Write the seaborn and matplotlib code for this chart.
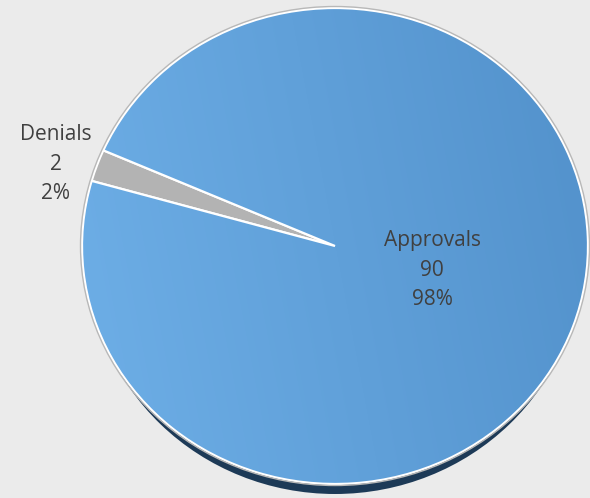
import numpy as np
import matplotlib
matplotlib.use("Agg")
import matplotlib.pyplot as plt
import seaborn as sns
from matplotlib.patches import Ellipse

sns.set_theme(style="white")
plt.rcParams["font.family"] = ["Open Sans", "DejaVu Sans"]

# Decision counts
categories = ["Denials", "Approvals"]
counts = [2, 90]

W, H = 590, 498
cx, cy = 335, 246          # pie centre (px)
rx, ry = 253, 238          # pie radii (px)

fig = plt.figure(figsize=(W / 100, H / 100), dpi=100)
fig.patch.set_facecolor("#ebebeb")
ax = fig.add_axes([0, 0, 1, 1])
ax.set_facecolor("#ebebeb")

# data units: one unit = rx px horizontally, ry px vertically
ax.set_xlim(-cx / rx, (W - cx) / rx)
ax.set_ylim(-(H - cy) / ry, cy / ry)

# drop shadow under the disc
shadow = Ellipse((0.0, -10 / ry), 2 * 0.975, 2.0, facecolor="#1d3a57",
                 edgecolor="none", zorder=0)
ax.add_patch(shadow)
# thin grey rim
rim = Ellipse((0.0, 0.0), 2 + 3 / rx, 2 + 3 / ry, facecolor="none",
              edgecolor="#b8b8b8", lw=1.0, zorder=4)
ax.add_patch(rim)

wedges, _ = ax.pie(counts, colors=["#b3b3b3", "#62a3dc"], startangle=156.3,
                   counterclock=True, radius=1.0, center=(0, 0),
                   wedgeprops=dict(edgecolor="white", linewidth=1.6),
                   frame=True)
for w in wedges:
    w.set_zorder(2)

# horizontal light-to-dark blue shading on the Approvals slice
xs = np.linspace(0, 1, 256)
ys = np.linspace(0, 1, 64)
gx, gy = np.meshgrid(xs, ys)
t = np.clip(0.85 * gx + 0.15 * (1 - gy), 0, 1)
c0 = np.array([110, 175, 231]) / 255
c1 = np.array([82, 145, 203]) / 255
img = c0[None, None, :] * (1 - t[..., None]) + c1[None, None, :] * t[..., None]
im = ax.imshow(img, extent=(-1, 1, -1, 1), origin="upper", aspect="auto",
               zorder=2.5, interpolation="bilinear")
im.set_clip_path(wedges[1])
wedges[1].set_zorder(3)
wedges[1].set_facecolor("none")

ax.set_xlim(-cx / rx, (W - cx) / rx)
ax.set_ylim(-(H - cy) / ry, cy / ry)
ax.set_aspect("auto")
ax.axis("off")

total = sum(counts)
label_pos = {"Denials": (56, 164), "Approvals": (432, 270)}
for name, val in zip(categories, counts):
    px, py = label_pos[name]
    fig.text(px / W, 1 - py / H, f"{name}\n{val}\n{val / total:.0%}",
             ha="center", va="center", fontsize=15, color="#404040",
             linespacing=1.55, zorder=10)

fig.savefig("out.png", dpi=100, facecolor=fig.get_facecolor())
